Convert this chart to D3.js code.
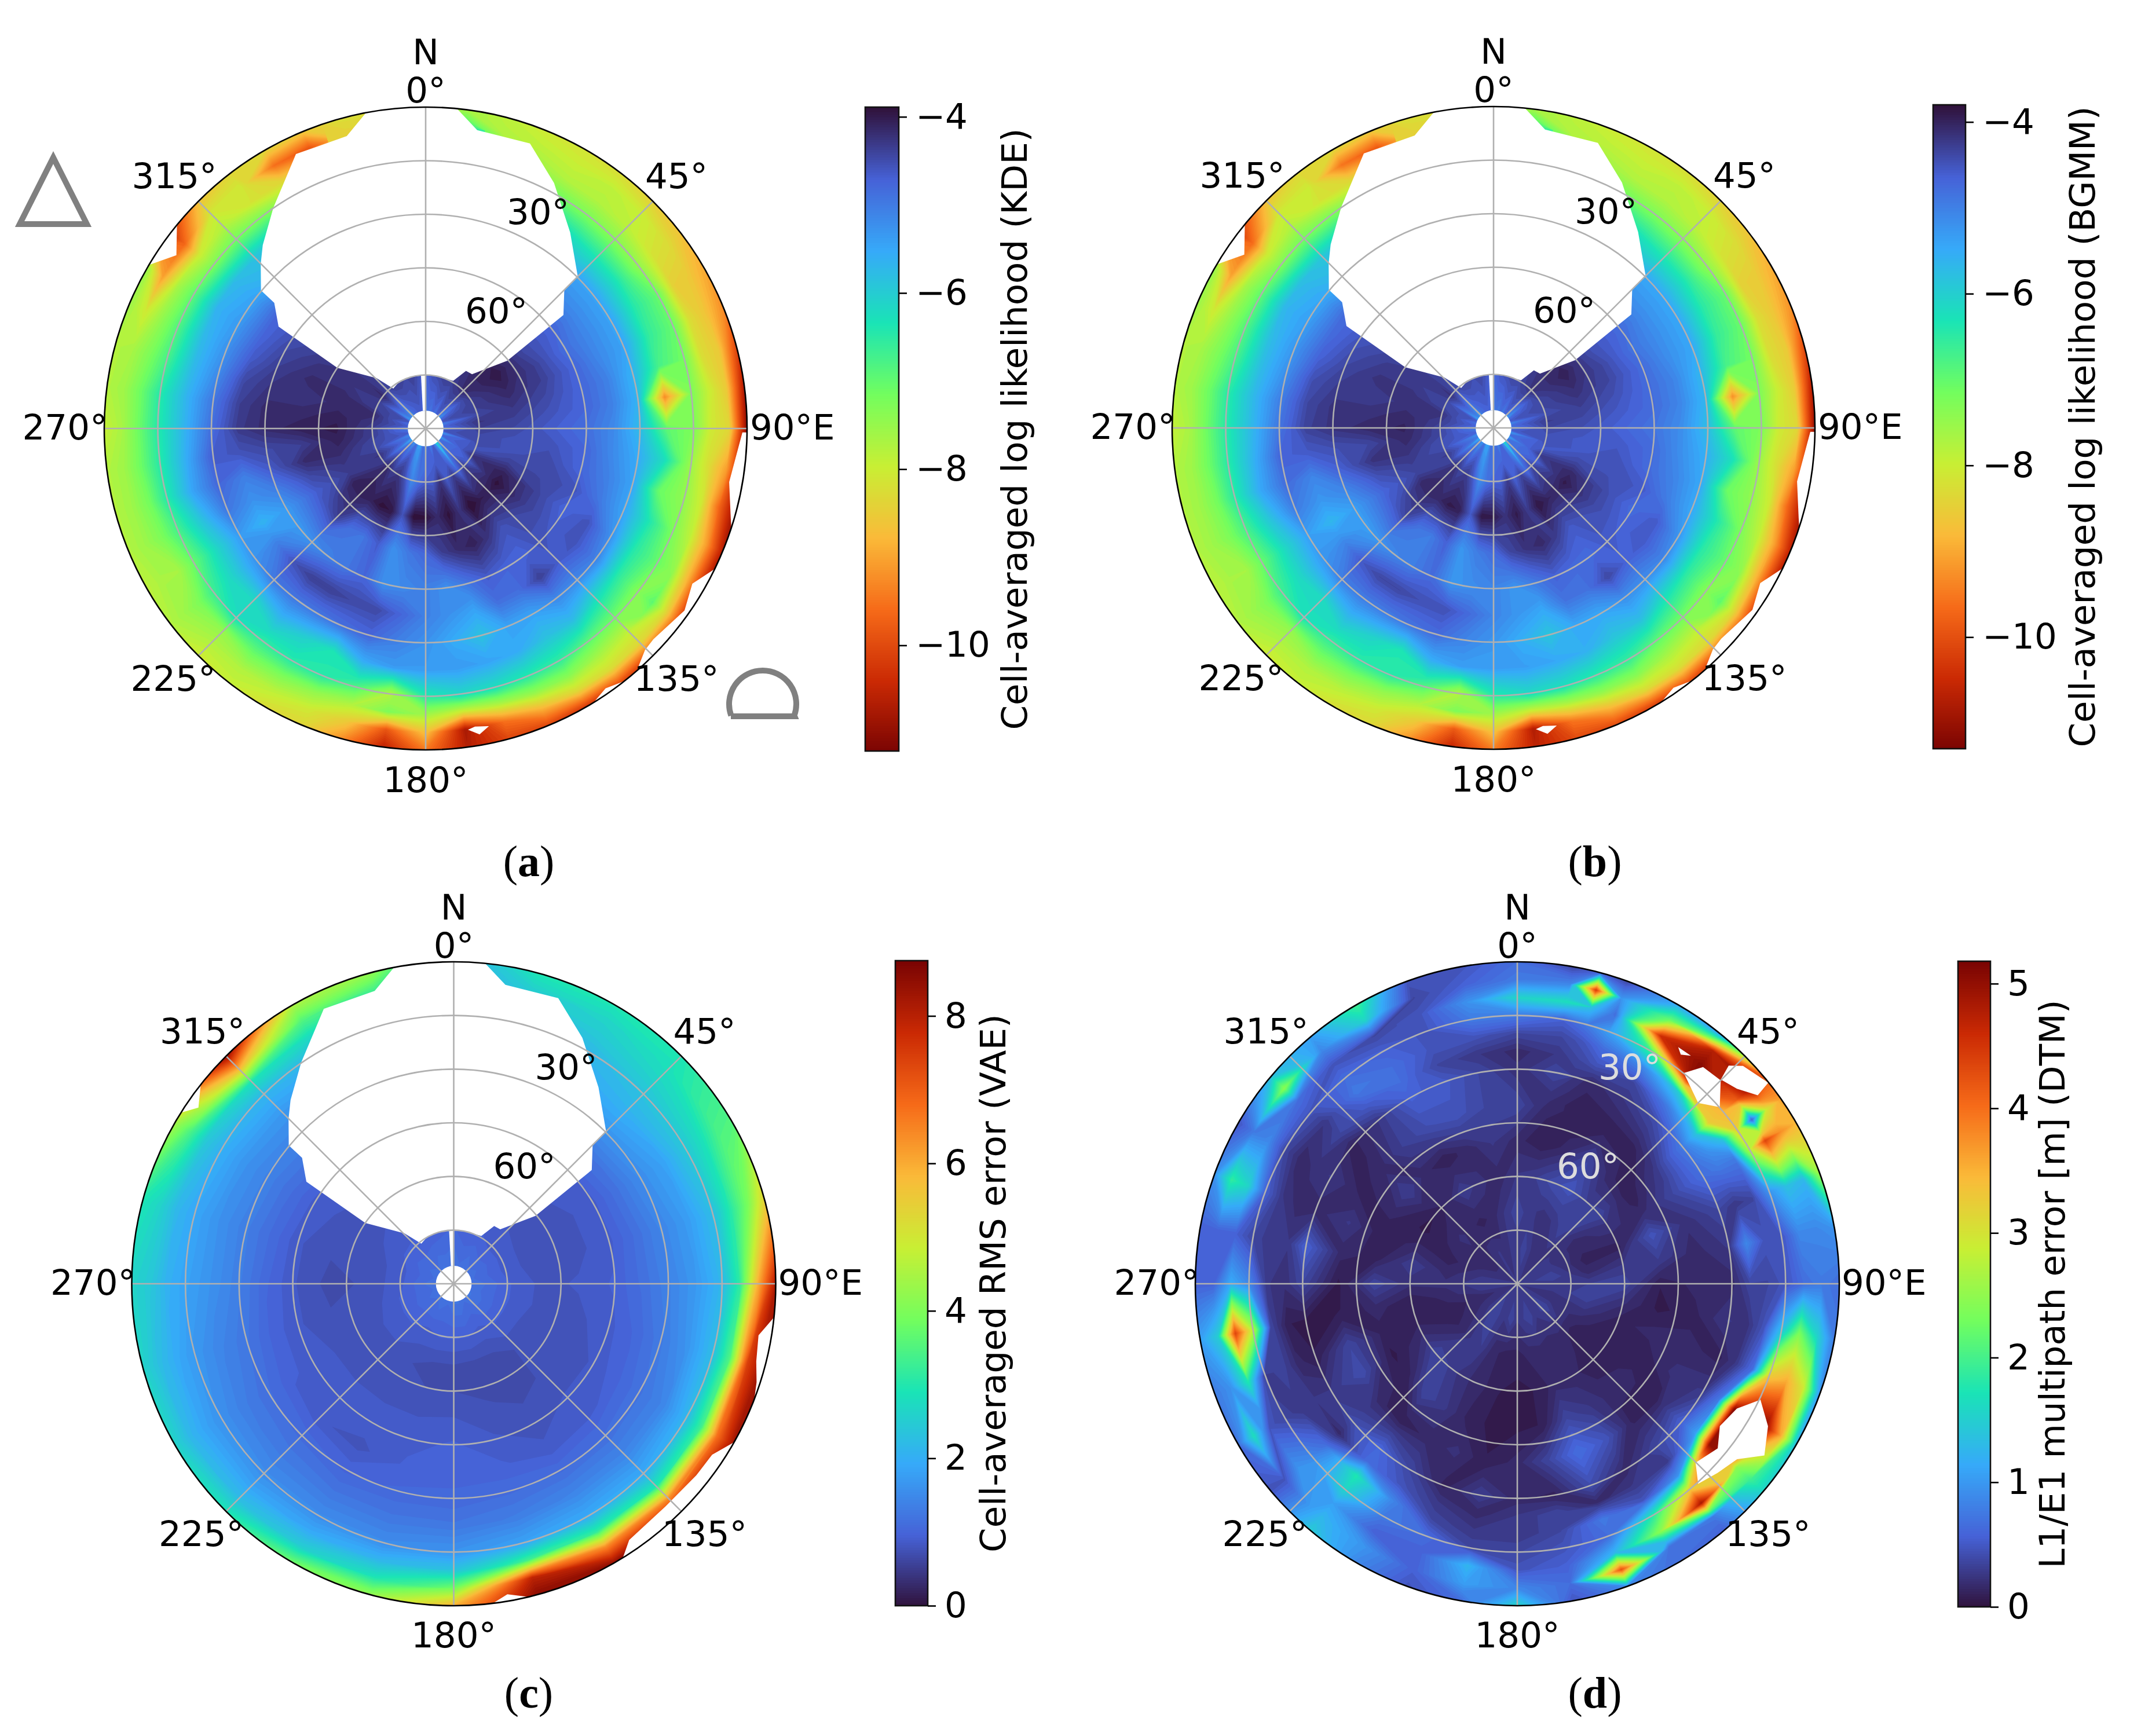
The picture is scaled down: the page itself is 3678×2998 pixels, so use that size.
<!DOCTYPE html>
<html>
<head>
<meta charset="utf-8">
<title>Sky plots</title>
<script src="https://d3js.org/d3.v7.min.js"></script>
<style>
  body { margin: 0; background: #fff; }
  text { font-family: "DejaVu Sans", sans-serif; fill: #000; }
  .caption { font-family: "Liberation Serif", serif; font-size: 76px; }
</style>
</head>
<body>
<script>
// sky cell values, rows go from zenith to horizon
const kdeAzimuths = [0,7.5,15,22.5,30,37.5,45,52.5,60,67.5,75,82.5,90,97.5,105,112.5,120,127.5,135,142.5,150,157.5,165,172.5,180,187.5,195,202.5,210,217.5,225,232.5,240,247.5,255,262.5,270,277.5,285,292.5,300,307.5,315,322.5,330,337.5,345,352.5];
const elevations = [85,75,65,55,45,37.5,30,22.5,15,10,5,0];

// (a) and (b) are the same picture up to the colour range
const logLikValues = [
  [-5.0,-4.8,-4.9,-4.7,-4.9,-4.6,-4.9,-5.2,-4.7,-4.5,-5.0,-4.7, -4.9,-4.5,-5.2,-4.7,-5.3,-4.8,-5.0,-6.2,-5.1,-4.6,-5.0,-4.7, -5.1,-4.7,-5.3,-5.4,-4.8,-5.2,-4.9,-5.5,-4.9,-5.1,-4.6,-4.8, -4.9,-4.6,-4.8,-4.5,-5.3,-5.0,-5.4,-4.8,-4.7,-4.6,-4.6,-4.7],
  [-4.7,-4.5,-4.4,-4.3,-4.3,-4.2,-4.1,-4.2,-4.3,-4.3,-4.4,-4.2, -4.3,-4.4,-4.4,-4.5,-4.2,-4.6,-4.3,-4.7,-4.3,-4.6,-4.2,-4.6, -4.6,-4.8,-5.1,-4.5,-4.2,-4.3,-4.1,-4.3,-4.2,-4.4,-4.4,-4.3, -4.3,-4.2,-4.1,-4.3,-4.3,-4.1,-4.4,-4.3,-4.3,-4.4,-4.3,-4.5],
  [-4.4,-4.4,-4.3,-4.3,-4.2,-4.1,-4.0,-3.9,-4.0,-4.1,-4.2,-4.3, -4.4,-4.5,-4.5,-4.3,-4.0,-3.85,-4.0,-3.95,-3.8,-4.2,-3.85,-4.1, -3.85,-3.8,-4.5,-3.9,-3.85,-4.0,-4.0,-4.0,-4.3,-4.2,-4.1,-4.0, -3.95,-4.0,-4.1,-4.1,-4.2,-4.2,-4.3,-4.3,-4.4,-4.4,-4.4,-4.4],
  [-4.5,-4.5,-4.5,-4.5,-4.5,-4.4,-4.4,-4.4,-4.3,-4.3,-4.4,-4.5, -4.6,-4.5,-4.4,-4.4,-4.3,-4.3,-4.4,-4.5,-4.2,-4.0,-4.1,-4.3, -4.7,-4.9,-5.2,-4.6,-4.9,-4.8,-4.3,-4.5,-4.6,-4.4,-4.1,-4.3, -4.0,-4.1,-4.2,-4.1,-4.2,-4.3,-4.4,-4.4,-4.5,-4.5,-4.5,-4.5],
  [-4.7,-4.7,-4.7,-4.7,-4.7,-4.7,-4.7,-4.7,-4.8,-4.7,-4.7,-4.7, -4.8,-4.7,-4.7,-4.5,-4.7,-4.6,-4.5,-4.7,-4.7,-4.6,-4.9,-5.2, -5.0,-5.1,-5.2,-4.7,-4.9,-5.0,-5.2,-5.3,-5.3,-5.0,-4.6,-4.4, -4.1,-4.1,-4.2,-4.3,-4.4,-4.5,-4.6,-4.6,-4.7,-4.7,-4.7,-4.7],
  [-5.0,-5.0,-5.0,-5.0,-5.0,-5.0,-5.1,-5.1,-5.1,-5.1,-5.0,-5.0, -5.1,-5.1,-5.0,-4.9,-4.5,-4.5,-4.6,-4.3,-4.8,-4.8,-5.4,-5.2, -5.0,-4.7,-4.4,-4.4,-4.3,-4.3,-4.5,-5.0,-5.6,-5.2,-5.0,-4.5, -4.25,-4.3,-4.4,-4.6,-4.7,-4.7,-4.9,-4.9,-5.0,-5.0,-5.0,-5.0],
  [-5.5,-5.5,-5.6,-5.6,-5.6,-5.6,-5.4,-5.4,-5.4,-5.4,-5.6,-5.6, -5.7,-5.5,-5.4,-5.4,-5.2,-5.0,-5.1,-5.1,-5.4,-5.4,-5.8,-5.5, -5.2,-5.0,-4.7,-4.8,-4.9,-4.9,-4.9,-5.2,-5.3,-4.9,-4.7,-4.6, -4.8,-4.9,-5.1,-5.2,-5.3,-5.4,-5.6,-5.6,-5.6,-5.6,-5.5,-5.5],
  [-6.0,-6.0,-6.0,-6.0,-6.0,-6.2,-6.3,-6.3,-6.4,-6.5,-6.7,-9.2, -6.9,-6.2,-7.0,-6.3,-6.4,-6.4,-6.2,-5.7,-5.8,-5.5,-5.4,-5.3, -5.3,-5.3,-5.5,-6.3,-6.0,-5.7,-6.1,-6.0,-6.1,-5.8,-5.4,-5.5, -5.6,-5.6,-5.7,-5.7,-5.6,-5.7,-5.8,-5.8,-6.0,-6.0,-6.0,-6.0],
  [-5.8,-5.9,-6.8,-7.0,-7.1,-7.2,-7.3,-7.4,-7.0,-7.0,-7.1,-7.2, -7.2,-7.5,-7.4,-7.2,-7.0,-7.3,-7.1,-6.9,-6.5,-6.4,-6.2,-6.1, -6.4,-7.7,-6.8,-6.4,-6.4,-6.5,-6.2,-6.6,-7.0,-6.7,-6.4,-6.4, -6.4,-6.4,-6.7,-6.8,-6.9,-7.2,-7.1,-7.2,-7.4,-7.4,-7.4,-7.4],
  [-5.9,-6.0,-7.4,-7.5,-7.7,-7.7,-7.8,-8.1,-8.4,-8.2,-8.2,-7.9, -8.0,-8.2,-8.0,-7.8,-7.4,-6.9,-7.8,-7.6,-7.3,-7.4,-7.7,-8.0, -7.5,-7.2,-7.7,-7.4,-7.2,-7.1,-7.4,-7.2,-7.6,-7.2,-7.1,-7.0, -7.0,-7.0,-7.2,-7.4,-7.6,-8.0,-7.7,-8.1,-8.3,-8.5,-8.2,-7.9],
  [-6.2,-6.5,-7.7,-7.8,-7.9,-7.8,-7.9,-8.2,-8.5,-8.6,-8.5,-8.5, -8.3,-9.0,-9.6,-9.0,-8.9,-8.4,-8.3,-8.2,-8.3,-8.8,-9.5,-10.7, -8.6,-9.8,-8.5,-8.0,-7.8,-7.7,-7.7,-7.5,-7.6,-7.5,-7.5,-7.5, -7.6,-7.5,-7.6,-8.0,-9.0,-9.6,-8.0,-8.0,-9.5,-9.8,-8.4,-8.4],
  [-7.4,-7.6,-7.8,-8.0,-8.1,-8.2,-8.4,-8.6,-8.9,-9.2,-10.0,-10.7, -11.0,-11.0,-10.9,-10.6,-10.6,-10.3,-10.2,-10.0,-10.2,-10.0,-10.0,-10.6, -9.4,-10.5,-9.2,-8.3,-8.2,-7.9,-8.0,-7.7,-7.8,-7.7,-7.7,-7.7, -7.9,-7.7,-7.7,-7.5,-7.4,-10.3,-8.6,-8.3,-8.3,-8.5,-8.2,-8.2]
];

const vaeAzimuths = [0,15,30,45,60,75,90,105,120,135,150,165,180,195,210,225,240,255,270,285,300,315,330,345];
const rmsValues = [
  [1.3,1.2,1.3,1.2,1.25,1.2, 1.3,1.25,1.3,1.3,1.2,1.3, 1.3,1.2,1.3,1.2,1.25,1.2, 1.3,1.2,1.25,1.2,1.3,1.25],
  [1.1,1.0,1.0,.95,.95,.95, 1.0,1.0,1.0,1.0,.95,1.0, 1.0,1.0,.95,1.0,1.0,1.0, .95,.95,1.0,1.0,1.0,1.05],
  [.95,.95,.9,.85,.8,.8, .85,.85,.8,.8,.72,.7, .72,.72,.8,.85,.85,.8, .8,.8,.85,.9,.95,.95],
  [.95,.95,.9,.9,.85,.85, .9,.85,.8,.8,.75,.8, .85,.85,.85,.85,.85,.8, .75,.8,.85,.9,.95,.95],
  [1.0,1.0,1.0,1.0,.95,.95, 1.0,.95,.9,.9,.85,.9, 1.0,.95,.95,.95,.95,.9, .9,.9,.95,1.0,1.0,1.0],
  [1.3,1.3,1.3,1.3,1.25,1.2, 1.2,1.1,1.05,.95,.9,1.0, 1.05,1.0,.85,.9,1.0,1.05, 1.1,1.15,1.2,1.25,1.3,1.3],
  [1.7,1.7,1.7,1.7,1.6,1.5, 1.45,1.35,1.25,1.2,1.15,1.15, 1.1,1.1,1.05,1.15,1.2,1.3, 1.4,1.4,1.45,1.5,1.6,1.6],
  [2.0,2.0,2.0,2.1,1.9,1.8, 1.75,1.7,1.5,1.5,1.5,1.4, 1.3,1.3,1.3,1.35,1.4,1.5, 1.65,1.65,1.7,1.75,1.8,2.0],
  [1.8,2.0,2.2,2.4,2.5,2.3, 2.2,2.3,2.2,2.0,2.0,1.9, 1.7,1.6,1.6,1.6,1.65,1.75, 1.9,1.95,2.1,2.2,2.2,2.1],
  [2.0,2.3,2.5,2.7,2.9,3.1, 3.2,3.6,3.4,3.0,3.2,3.4, 2.4,2.2,2.0,1.9,1.9,2.0, 2.1,2.2,2.5,3.0,2.8,2.8],
  [2.0,2.6,2.7,2.9,3.5,4.0, 6.0,7.5,6.8,6.5,6.5,8.0, 3.9,3.0,2.6,2.3,2.2,2.3, 2.5,2.7,3.5,6.0,3.6,3.4],
  [2.0,3.0,3.0,3.0,3.6,5.5, 8.2,8.5,8.3,8.5,8.5,8.6, 6.0,4.3,3.9,3.0,2.7,2.7, 2.7,3.0,4.5,8.5,4.6,4.3]
];

// (d) is spikier, so it gets its own grid with extra columns at the hot spots
const dtmAzimuths = [0,10,15,20,30,40,50,55,60,70,80,90,100,110,120,130,140,150,160,170,180,190,200,210,220,230,240,250,260,270,280,290,300,310,320,330,340,350];
const dtmElevations = [90,80,70,60,50,40,30,25,20,15,10,5,0];
const dtmValues = [
  [.3,.3,.3,.3,.3,.3,.3,.3,.3,.3,.3,.3, .3,.3,.3,.3,.3,.3,.3,.3,.3,.3, .3,.3,.3,.3,.3,.3,.3,.3,.3,.3, .3,.3,.3,.3,.3,.3],
  [.3,.4,.35,.3,.25,.25,.3,.3,.3,.35,.4,.3, .3,.25,.3,.4,.35,.3,.4,.35,.3,.4, .3,.35,.4,.3,.25,.2,.3,.35,.3,.25, .2,.2,.25,.3,.25,.3],
  [.4,.3,.28,.25,.3,.4,.25,.2,.2,.15,.2,.35, .4,.3,.2,.15,.2,.2,.2,.2,.15,.15, .2,.35,.3,.2,.15,.15,.2,.25,.2,.15, .2,.25,.2,.15,.2,.3],
  [.3,.35,.4,.45,.5,.35,.4,.3,.25,.15,.3,.4, .25,.15,.12,.12,.15,.2,.2,.12,.1,.12, .2,.25,.35,.4,.25,.15,.12,.25,.35,.2, .1,.12,.2,.35,.25,.2],
  [.2,.12,.15,.2,.4,.2,.12,.15,.2,.5,.35,.12, .1,.2,.12,.2,.2,.3,.4,.12,.1,.1, .15,.3,.4,.15,.1,.15,.2,.4,.15,.12, .2,.35,.2,.12,.2,.3],
  [.4,.2,.15,.12,.12,.15,.3,.35,.4,.25,.2,.2, .15,.2,.25,.12,.15,.5,.7,.4,.2,.12, .25,.2,.12,.2,.45,.4,.12,.1,.2,.3, .15,.2,.35,.45,.5,.4],
  [.25,.4,.3,.2,.3,.45,.8,.75,.7,.4,.3,.2, .3,.15,.3,.6,.4,.2,.45,.15,.2,.35, .15,.4,.65,.45,.3,.12,.1,.4,.6,.2, .3,.15,.3,.6,.55,.4],
  [.2,.3,.4,.5,.4,.8,1.4,1.0,.8,.3,.9,.4, .25,.3,.8,1.1,.3,.3,.2,.4,.3,.2, .3,.5,.7,.2,.3,.2,.12,.25,.3,.2, .25,.4,.55,.7,.4,.3],
  [.4,.4,.5,.7,.9,1.5,3.3,1.4,.8,.4,.5,.4, .5,.7,5.1,5.0,1.0,.5,.8,.4,.3,.3, .4,.9,1.8,.7,.3,.4,.4,.3,.3,.3, .2,.3,.8,.7,.5,.5],
  [.8,.6,.8,1.1,2.0,5.1,3.5,3.3,2.8,1.0,.5,.5, 1.4,3.3,5.1,5.1,3.3,1.8,.7,.5,.4,.4, .7,.8,1.6,.9,.4,.3,2.8,.9,.4,.6, .4,.5,.7,.6,.5,.8],
  [1.6,1.7,1.4,.7,4.6,5.1,4.2,.6,4.4,1.4,.9,.7, 2.4,3.6,5.1,2.5,4.9,2.5,1.3,.6,.5,1.3, .6,.6,1.1,1.0,.5,1.8,4.4,1.2,.6,1.6, .9,.7,.5,.4,.5,1.0],
  [.8,.9,4.5,1.0,2.3,4.8,5.1,3.0,3.8,1.3,.9,.8, 1.6,3.0,3.6,2.0,.8,.7,4.3,.7,.9,1.1, .6,1.0,1.3,.5,1.7,1.0,1.5,.6,.6,1.9, .8,2.5,.9,1.6,.4,.6],
  [.7,.4,.6,.4,1.2,1.1,4.2,3.7,3.5,2.6,1.0,.7, .8,1.0,1.3,1.6,.6,.7,.9,.5,1.6,.7, .5,.9,1.5,.5,.7,.8,1.1,.6,.6,1.0, .5,1.4,1.1,2.0,.5,.5]
];

// parts of the sky without data, as [azimuth, elevation] outlines
const skyGap = [[-10.7,-5],[-10.7,0],[-15.1,5.2],[-25.3,5],[-34.6,14.9],[-41.6,21.3],[-45,24.7],[-50,29.8],[-50.3,34.9],[-55.3,39.9],[-55.5,60],[-44.3,70.3],[-39,75.6],[-30,75],[-15,75],[0,75],[15,75],[30,74.6],[35,70.3],[40.5,70],[50.3,60.3],[50.5,40],[45.1,35.2],[44.9,29.7],[36.4,21.8],[27.6,12.4],[20.1,5],[9.8,5.2],[5.6,0],[5.6,-5]];
const zenithSliver = [[-5,75],[0,75],[0,85],[-9,85]];
const kdeEdgeGaps = [
  [[-50.7,-5],[-50.7,0],[-55.2,5],[-59.4,0],[-59.4,-5]],
  [[90.7,-5],[90.7,1.3],[100,3.7],[106.3,1],[108,0],[108,-5]],
  [[115.9,-5],[115.9,0],[120.2,3.6],[125.1,1.4],[132.8,3.1],[135.3,2.7],[138.2,0.6],[138.2,-5]],
  [[141.8,-5],[141.8,0],[145.3,1.5],[148.5,0],[148.5,-5]],
  [[172,4.8],[170.6,5.4],[168,4.8],[170,3]]
];
const vaeEdgeGaps = [
  [[-51.8,-5],[-51.8,0],[-55.4,3.3],[-57.9,0],[-57.9,-5]],
  [[96,-5],[96,0],[99.6,3.6],[104.4,2.7],[108,1],[111,0],[111,-5]],
  [[119.5,-5],[119.5,0],[123.5,3.4],[128.3,3.6],[136.4,4.1],[145.6,3.2],[148.3,0],[148.3,-5]],
  [[173,-5],[173,0],[170.2,1.9],[166.6,0],[166.6,-5]]
];
const dtmGaps = [
  [[38.3,14.9],[40.6,10.2],[45,9.6],[48.9,14.9],[45,18.5]],
  [[44.9,9.4],[44.1,5.1],[46,2.3],[51.3,0.1],[51.9,4.6],[48.4,7.9]],
  [[34.2,10],[37.3,9.9],[35.5,11.3]],
  [[115.5,14.7],[119.6,9.4],[124.8,5.9],[128.6,11.4],[133.4,13],[137.9,14.6],[135.1,19.4],[129.4,17.5],[125.1,20.8],[119.6,19.4]]
];

const ringLevels = [15,30,45,60,75];
const spokeAngles = [0,45,90,135,180,225,270,315];
const kdeTicks = [-4,-6,-8,-10];
const rmsTicks = [0,2,4,6,8];
const dtmTicks = [0,1,2,3,4,5];

// matplotlib turbo at even steps
const turboColors = ["#30123b","#4662d7","#36aaf9","#1ae4b6","#72fe5e","#c8ef34","#faba39","#f66b19","#cb2a04","#7a0403"];
const turbo = d3.scaleLinear().domain(d3.range(10).map(d => d / 9)).range(turboColors).clamp(true);

const panels = [
  { cx: 735, cy: 740, r: 555, values: logLikValues, az: kdeAzimuths, el: elevations, gaps: [skyGap, zenithSliver].concat(kdeEdgeGaps), hole: 85,
    dark: -3.89, hot: -11.2, bar: { x: 1494, w: 58, top: 185, bottom: 1297 }, ticks: kdeTicks, label: "Cell-averaged log likelihood (KDE)", labelX: 1773,
    caption: "a", capX: 913, capY: 1487, elevColor: "#000", marker: true },
  { cx: 2579, cy: 739, r: 555, values: logLikValues, az: kdeAzimuths, el: elevations, gaps: [skyGap, zenithSliver].concat(kdeEdgeGaps), hole: 85,
    dark: -3.8, hot: -11.3, bar: { x: 3338, w: 56, top: 181, bottom: 1293 }, ticks: kdeTicks, label: "Cell-averaged log likelihood (BGMM)", labelX: 3617,
    caption: "b", capX: 2754, capY: 1487, elevColor: "#000" },
  { cx: 783.5, cy: 2217, r: 556, values: rmsValues, az: vaeAzimuths, el: elevations, gaps: [skyGap, zenithSliver].concat(vaeEdgeGaps), hole: 85,
    dark: 0, hot: 8.75, bar: { x: 1546, w: 56, top: 1659, bottom: 2773 }, ticks: rmsTicks, label: "Cell-averaged RMS error (VAE)", labelX: 1736,
    caption: "c", capX: 913, capY: 2923, elevColor: "#000" },
  { cx: 2620, cy: 2217, r: 556, values: dtmValues, az: dtmAzimuths, el: dtmElevations, gaps: dtmGaps, hole: null,
    dark: 0, hot: 5.18, bar: { x: 3381, w: 56, top: 1660, bottom: 2775 }, ticks: dtmTicks, label: "L1/E1 multipath error [m] (DTM)", labelX: 3565,
    caption: "d", capX: 2754, capY: 2923, elevColor: "#dddddd" }
];

const svg = d3.select("body").append("svg")
  .attr("width", 3678).attr("height", 2998)
  .style("display", "block");

const rad = d => d * Math.PI / 180;
const fontPx = 61;

function drawPanel(p, idx) {
  const g = svg.append("g").attr("transform", `translate(${p.cx},${p.cy})`);
  const radius = d3.scaleLinear().domain([90, 0]).range([0, p.r]);
  const polar = (az, el) => [radius(el) * Math.sin(rad(az)), -radius(el) * Math.cos(rad(az))];

  const clipId = "disc" + idx;
  g.append("clipPath").attr("id", clipId).append("circle").attr("r", p.r);
  const disc = g.append("g").attr("clip-path", `url(#${clipId})`);

  // wrap two columns each side and run the last row past the rim so contours close outside the disc
  p.values.forEach(row => { if (row.length !== p.az.length) throw new Error("bad row " + row.length); });
  const rows = p.values.concat([p.values[p.values.length - 1]]);
  const rowEl = p.el.concat([-6]);
  const n = p.az.length;
  const colAz = [p.az[n - 2] - 360, p.az[n - 1] - 360].concat(p.az, [p.az[0] + 360, p.az[1] + 360]);
  const flat = [];
  rows.forEach(row => {
    flat.push(row[n - 2], row[n - 1], ...row, row[0], row[1]);
  });
  const nx = colAz.length, ny = rows.length;
  const colScale = d3.scaleLinear().domain(d3.range(nx)).range(colAz);
  const rowScale = d3.scaleLinear().domain(d3.range(ny)).range(rowEl).clamp(true);

  const path = d3.geoPath(d3.geoTransform({
    point(x, y) {
      const [px, py] = polar(colScale(x - 0.5), rowScale(y - 0.5));
      this.stream.point(px, py);
    }
  }));

  const toT = d3.scaleLinear().domain([p.dark, p.hot]).range([0, 1]);
  const low = Math.min(p.dark, p.hot), high = Math.max(p.dark, p.hot);
  const levels = d3.range(90).map(i => low + (high - low) * i / 89);
  const contour = d3.contours().size([nx, ny]);

  disc.selectAll("path.band")
    .data(levels)
    .join("path")
    .attr("class", "band")
    .attr("d", t => path(contour.contour(flat, t)))
    .attr("fill", t => turbo(toT(t)));

  const outline = d3.line().curve(d3.curveLinearClosed);
  disc.selectAll("path.gap")
    .data(p.gaps)
    .join("path")
    .attr("class", "gap")
    .attr("d", d => outline(d.map(q => polar(q[0], q[1]))))
    .attr("fill", "#fff");

  if (p.hole !== null) disc.append("circle").attr("r", radius(p.hole)).attr("fill", "#fff");

  // polar grid
  g.selectAll("circle.ring")
    .data(ringLevels)
    .join("circle")
    .attr("class", "ring")
    .attr("r", d => radius(d))
    .attr("fill", "none")
    .attr("stroke", "#b0b0b0")
    .attr("stroke-width", 2.6);
  g.selectAll("line.spoke")
    .data(spokeAngles)
    .join("line")
    .attr("class", "spoke")
    .attr("x2", d => polar(d, 0)[0])
    .attr("y2", d => polar(d, 0)[1])
    .attr("stroke", "#b0b0b0")
    .attr("stroke-width", 2.6);
  g.append("circle").attr("r", p.r).attr("fill", "none").attr("stroke", "#000").attr("stroke-width", 2.6);

  const labels = [
    ["N", 0, -651, "middle"], ["0°", 0, -585, "middle"], ["45°", 433, -437, "middle"], ["315°", -434, -437, "middle"],
    ["270°", -623, -3, "middle"], ["90°E", 560, -3, "start"], ["225°", -436, 431, "middle"], ["135°", 433, 431, "middle"],
    ["180°", 0, 606, "middle"]
  ];
  g.selectAll("text.az")
    .data(labels)
    .join("text")
    .attr("class", "az")
    .attr("x", d => d[1]).attr("y", d => d[2])
    .attr("text-anchor", d => d[3])
    .attr("dominant-baseline", "central")
    .attr("font-size", fontPx)
    .text(d => d[0]);
  const elevLabels = [["30°", 194, -375], ["60°", 122, -204]];
  g.selectAll("text.el")
    .data(elevLabels)
    .join("text")
    .attr("class", "el")
    .attr("x", d => d[1]).attr("y", d => d[2])
    .attr("text-anchor", "middle")
    .attr("dominant-baseline", "central")
    .attr("font-size", fontPx)
    .style("fill", p.elevColor)
    .text(d => d[0]);

  // colour bar
  const bar = p.bar;
  const y = d3.scaleLinear().domain([p.dark, p.hot]).range(low === p.dark ? [bar.bottom, bar.top] : [bar.top, bar.bottom]);
  const steps = d3.range(256).map(i => i / 256);
  const cb = svg.append("g");
  cb.selectAll("rect")
    .data(steps)
    .join("rect")
    .attr("x", bar.x).attr("width", bar.w)
    .attr("y", d => bar.top + (bar.bottom - bar.top) * d)
    .attr("height", (bar.bottom - bar.top) / 256 + 1)
    .attr("fill", d => turbo(low === p.dark ? 1 - d : d));
  cb.append("rect")
    .attr("x", bar.x).attr("y", bar.top).attr("width", bar.w).attr("height", bar.bottom - bar.top)
    .attr("fill", "none").attr("stroke", "#111").attr("stroke-width", 2.6);

  const axis = d3.axisRight(y).tickValues(p.ticks).tickSize(14).tickPadding(15).tickFormat(d3.format("d"));
  const ax = svg.append("g").attr("transform", `translate(${bar.x + bar.w},0)`).call(axis);
  ax.select(".domain").remove();
  ax.selectAll("line").attr("stroke", "#000").attr("stroke-width", 2.6);
  ax.selectAll("text").attr("font-size", fontPx).attr("font-family", "DejaVu Sans").attr("fill", "#000");

  const midY = (bar.top + bar.bottom) / 2;
  svg.append("text")
    .attr("transform", `translate(${p.labelX},${midY}) rotate(-90)`)
    .attr("text-anchor", "middle")
    .attr("font-size", fontPx)
    .text(p.label);

  // sub caption
  const cap = svg.append("text").attr("class", "caption")
    .attr("x", p.capX).attr("y", p.capY)
    .attr("text-anchor", "middle").attr("dominant-baseline", "central");
  cap.append("tspan").text("(");
  cap.append("tspan").attr("font-weight", "bold").text(p.caption);
  cap.append("tspan").text(")");
}

panels.forEach(drawPanel);

// street direction symbols of panel (a)
const iconStyle = sel => sel.attr("fill", "none").attr("stroke", "#808080").attr("stroke-width", 10);
svg.append("path").attr("d", "M92,272L34,387L150,387Z").call(iconStyle);
const dome = d3.path();
dome.moveTo(1262, 1237);
dome.lineTo(1372, 1237);
dome.arc(1317, 1216, 58, rad(20), rad(160), true);
svg.append("path").attr("d", dome.toString()).call(iconStyle);
</script>
</body>
</html>
